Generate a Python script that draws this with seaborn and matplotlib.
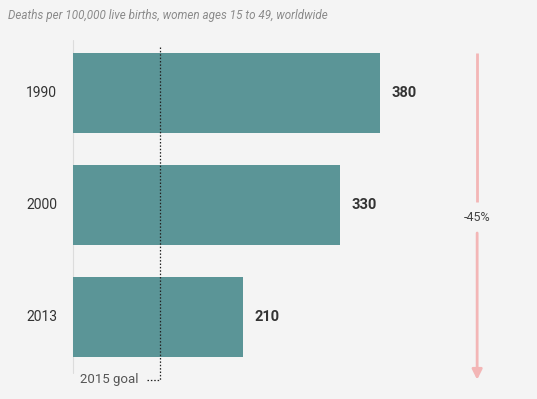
import matplotlib
matplotlib.use("Agg")
import matplotlib.pyplot as plt
import seaborn as sns
import pandas as pd

years = ["1990", "2000", "2013"]
deaths = [380, 330, 210]
goal_2015 = 108
change_label = "-45%"
subtitle = "Deaths per 100,000 live births, women ages 15 to 49, worldwide"

sns.set_theme(style="white")
plt.rcParams["font.family"] = ["Roboto", "DejaVu Sans"]

bg = "#f4f4f4"
bar_color = "#5b9597"
pink = "#f3b6b6"

df = pd.DataFrame({"year": years, "deaths": deaths})

fig = plt.figure(figsize=(5.37, 3.99), dpi=100, facecolor=bg)
ax = fig.add_axes([0, 0, 1, 1], facecolor=bg)

sns.barplot(data=df, x="deaths", y="year", orient="h", color=bar_color,
            saturation=1, width=0.714, edgecolor="none", linewidth=0,
            ax=ax, zorder=2)

# pixel-aligned data window
ax.set_xlim(-89.9, 574)
ax.set_ylim(2.732, -0.830)

for s in ax.spines.values():
    s.set_visible(False)
ax.set_xticks([])
ax.set_yticks([])
ax.set_xlabel("")
ax.set_ylabel("")

# year labels
for i, y in enumerate(years):
    ax.text(-19, i, y, ha="right", va="center", fontsize=10, color="#333333")

# baseline
ax.plot([0, 0], [-0.47, 2.5], color="#dcdcdc", lw=0.8, zorder=1)

# value labels
ax.bar_label(ax.containers[0], labels=[str(v) for v in deaths], padding=8.5,
             fontsize=10.5, fontweight="bold", color="#333333")

# 2015 goal marker
ax.plot([goal_2015, goal_2015], [-0.41, 2.56], color="#222222", lw=0.9,
        ls=(0, (1.2, 1.5)), zorder=3)
ax.plot([92, goal_2015], [2.56, 2.56], color="#222222", lw=0.9,
        ls=(0, (1.2, 1.5)), zorder=3)
ax.text(9, 2.56, "2015 goal", ha="left", va="center", fontsize=9.5, color="#555555")

# change arrow
ax.plot([500, 500], [-0.357, 0.97], color=pink, lw=2, solid_capstyle="butt")
ax.annotate("", xy=(500, 2.56), xytext=(500, 1.25),
            arrowprops=dict(arrowstyle="-|>,head_length=0.5,head_width=0.25",
                            color=pink, lw=2, shrinkA=0, shrinkB=0))
ax.text(500, 1.11, change_label, ha="center", va="center", fontsize=9, color="#444444")

fig.text(8 / 537, 1 - 15 / 399, subtitle, ha="left", va="center",
         fontsize=8.4, style="italic", color="#8a8a8a")

fig.savefig("out.png", dpi=100, facecolor=bg)
